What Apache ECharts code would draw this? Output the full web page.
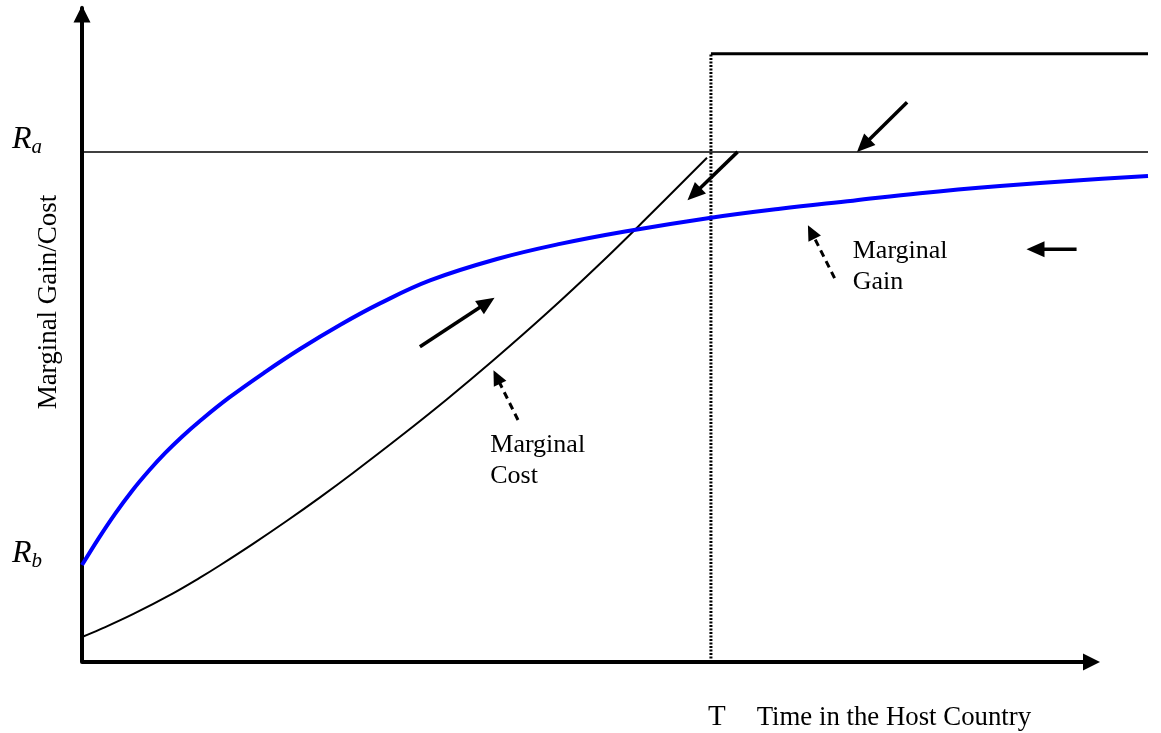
<!DOCTYPE html>
<html><head><meta charset="utf-8">
<script src="https://cdn.jsdelivr.net/npm/echarts@6/dist/echarts.min.js"></script>
<style>html,body{margin:0;padding:0;background:#fff}#c{width:1161px;height:733px}</style>
</head><body><div id="c"></div>
<script>
// ---- data (abstract units: x 0..100, y 0..100) ----
const gainX = [0, 1.59, 3.10, 4.69, 6.29, 7.79, 9.38, 10.98, 13.79, 17.17, 20.45, 24.20, 27.95, 32.65, 38.93, 44.84, 50.94, 59.01, 65.48, 72.33, 78.61, 86.12, 93.62, 100];
const gainY = [14.83, 18.99, 22.66, 26.16, 29.28, 31.93, 34.45, 36.74, 40.41, 44.33, 47.86, 51.53, 54.83, 58.35, 61.62, 63.93, 65.83, 67.94, 69.31, 70.54, 71.67, 72.77, 73.68, 74.31];
const costX = [0, 1.69, 4.78, 8.54, 11.07, 12.95, 16.04, 19.23, 22.33, 25.42, 29.83, 34.24, 38.56, 43.62, 48.59, 53.28, 58.63];
const costY = [3.82, 4.98, 7.31, 10.49, 12.89, 14.79, 18.06, 21.59, 25.17, 28.90, 34.43, 40.18, 46.09, 53.35, 60.89, 68.38, 77.09];
const Ra = 78.0;
const Rb = 14.8;
const T = 59.0;
const upperLevel = 93.0;
const xAxisEnd = 95.5;
// arrows: [tailX, tailY, tipX, tipY]
const solidArrows = [[31.7, 48.2, 38.7, 55.7], [77.4, 85.6, 72.7, 78.0], [61.5, 78.0, 56.8, 70.6], [93.3, 63.1, 88.6, 63.1]];
const dashedArrows = [[40.9, 37.0, 38.6, 44.6], [70.6, 58.7, 68.1, 66.8]];
const axisArrow = [[0, 0, xAxisEnd, 0]];
const noteText = ['Marginal\nCost', 'Marginal\nGain'];
const noteX = [38.3, 72.3];
const noteY = [35.5, 65.2];
const yTitle = 'Marginal Gain/Cost';
const xTitle = 'Time in the Host Country';

const FONT = '"Liberation Serif", "Times New Roman", serif';

function makeArrowRender(width, headLen, headHalf, dash) {
  return function (params, api) {
    const p1 = api.coord([api.value(0), api.value(1)]);
    const p2 = api.coord([api.value(2), api.value(3)]);
    const dx = p2[0] - p1[0], dy = p2[1] - p1[1];
    const len = Math.hypot(dx, dy);
    const ux = dx / len, uy = dy / len;
    const bx = p2[0] - ux * headLen, by = p2[1] - uy * headLen;
    return {
      type: 'group',
      children: [
        { type: 'line', shape: { x1: p1[0], y1: p1[1], x2: bx + ux * 2, y2: by + uy * 2 },
          style: { stroke: '#000', lineWidth: width, lineDash: dash || null } },
        { type: 'polygon', shape: { points: [[p2[0], p2[1]], [bx - uy * headHalf, by + ux * headHalf], [bx + uy * headHalf, by - ux * headHalf]] },
          style: { fill: '#000' } }
      ]
    };
  };
}

const chart = echarts.init(document.getElementById('c'), null, { renderer: 'canvas' });
chart.setOption({
  animation: false,
  backgroundColor: '#fff',
  grid: { left: 82, right: 13, top: 8, bottom: 71, containLabel: false, outerBoundsMode: 'none' },
  xAxis: {
    type: 'value', min: 0, max: 100,
    axisLine: { show: false }, axisTick: { show: false }, splitLine: { show: false },
    axisLabel: {
      customValues: [T], align: 'left', margin: 41, padding: [0, 0, 0, -3],
      formatter: function () { return '{t|T}{n|' + xTitle + '}'; },
      rich: {
        t: { fontFamily: FONT, fontSize: 29, color: '#000' },
        n: { fontFamily: FONT, fontSize: 26.8, color: '#000', padding: [0, 0, 0, 31] }
      }
    }
  },
  yAxis: {
    type: 'value', min: 0, max: 100,
    axisLine: { show: true, symbol: ['none', 'triangle'], symbolSize: [17, 17], symbolOffset: [0, -6],
      lineStyle: { color: '#000', width: 4 } },
    axisTick: { show: false }, splitLine: { show: false },
    axisLabel: {
      customValues: [Rb, Ra], margin: 40, padding: [0, 0, 24, 0],
      formatter: function (v) { return v > 50 ? '{r|R}{s|a}' : '{r|R}{s|b}'; },
      rich: {
        r: { fontFamily: FONT, fontStyle: 'italic', fontSize: 32, color: '#000' },
        s: { fontFamily: FONT, fontStyle: 'italic', fontSize: 21, color: '#000', padding: [16, 0, 0, 0] }
      }
    },
    name: yTitle, nameLocation: 'middle', nameGap: 20, nameMoveOverlap: false,
    nameTextStyle: { fontFamily: FONT, fontSize: 27, color: '#000', padding: [0, 0, 0, 66] }
  },
  series: [
    { type: 'line', name: 'Ra', data: [[0, Ra], [100, Ra]], showSymbol: false, lineStyle: { color: '#000', width: 1.5 } },
    { type: 'line', name: 'Upper', data: [[T, upperLevel], [100, upperLevel]], showSymbol: false, lineStyle: { color: '#000', width: 3 } },
    { type: 'line', name: 'T', data: [[T, 0], [T, upperLevel]], showSymbol: false, lineStyle: { color: '#000', width: 3, type: [2, 1.5] } },
    { type: 'line', name: 'Marginal Cost', data: costX.map((x, i) => [x, costY[i]]), smooth: 0.4, showSymbol: false, lineStyle: { color: '#000', width: 2 } },
    { type: 'line', name: 'Marginal Gain', data: gainX.map((x, i) => [x, gainY[i]]), smooth: 0.4, showSymbol: false, lineStyle: { color: '#0000FF', width: 4 } },
    { type: 'custom', name: 'x axis', data: axisArrow, encode: { x: [0, 2], y: [1, 3] }, renderItem: makeArrowRender(4, 17, 8.5, null) },
    { type: 'custom', name: 'arrows', data: solidArrows, encode: { x: [0, 2], y: [1, 3] }, renderItem: makeArrowRender(3.5, 18, 8, null) },
    { type: 'custom', name: 'dashed arrows', data: dashedArrows, encode: { x: [0, 2], y: [1, 3] }, renderItem: makeArrowRender(3, 15, 7, [7, 5]) },
    { type: 'custom', name: 'notes', data: noteX.map((x, i) => [x, noteY[i]]), encode: { x: 0, y: 1 },
      renderItem: function (params, api) {
        const p = api.coord([api.value(0), api.value(1)]);
        return { type: 'text', x: p[0], y: p[1],
          style: { text: noteText[params.dataIndex], font: '26px ' + FONT, fill: '#000', align: 'left', verticalAlign: 'top', lineHeight: 31 } };
      } }
  ]
});
</script>
</body></html>
